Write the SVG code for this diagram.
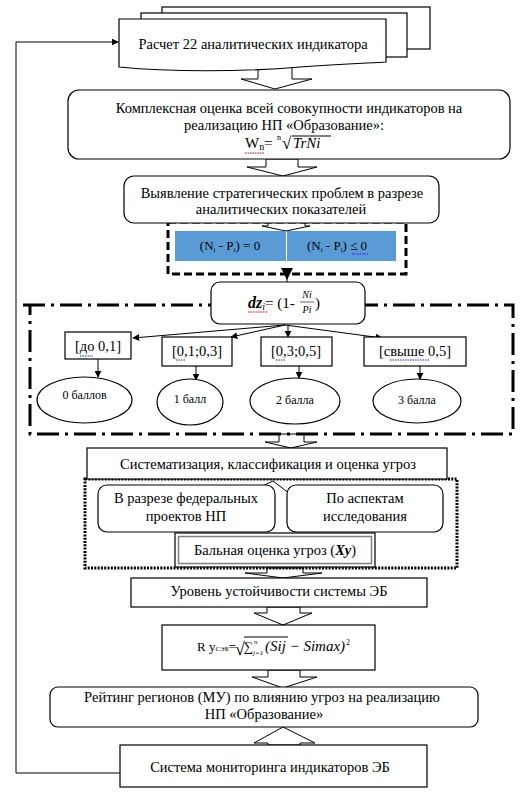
<svg xmlns="http://www.w3.org/2000/svg" width="521" height="795" viewBox="0 0 521 795">
<style>
.t{font-family:"Liberation Serif","Times New Roman",serif;font-size:14.5px;fill:#000}
.s{font-size:12px}
.m{font-family:"Liberation Serif",serif;font-style:italic}
.box{fill:#fff;stroke:#000;stroke-width:1.2}
.blk{fill:#fff;stroke:#000;stroke-width:1}
.ln{fill:none;stroke:#000;stroke-width:1}
.red{fill:none;stroke:#e00000;stroke-width:1;stroke-dasharray:1.5 1}
.blue{fill:none;stroke:#2020e0;stroke-width:1;stroke-dasharray:1.5 1}
</style>
<defs>
<marker id="ah" viewBox="0 0 10 10" refX="9" refY="5" markerWidth="7" markerHeight="7" orient="auto-start-reverse" markerUnits="userSpaceOnUse">
<path d="M0,0 L10,5 L0,10 z" fill="#000"/>
</marker>
</defs>

<g id="connectors">
<polyline class="ln" points="120,773 16,773 16,42 118,42" marker-end="url(#ah)"/>
<polygon class="blk" points="258,64 292,64 292,79 312,79 275,89 241,79 258,79"/>
<polygon class="blk" points="266,159 298,159 298,167 317,167 283,176 247,167 266,167"/>
<polygon class="blk" points="268,220 305,220 305,226 310,226 286,231 262,226 268,226"/>
<polygon points="281,268 293,268 287,280" fill="#000"/>
<line class="ln" x1="287" y1="274" x2="287" y2="283"/>
<line class="ln" x1="285" y1="325" x2="133" y2="338" marker-end="url(#ah)"/>
<line class="ln" x1="285" y1="325" x2="231" y2="337" marker-end="url(#ah)"/>
<line class="ln" x1="288" y1="325" x2="288" y2="337" marker-end="url(#ah)"/>
<line class="ln" x1="285" y1="325" x2="382" y2="338" marker-end="url(#ah)"/>
<line class="ln" x1="98" y1="359" x2="98" y2="377" marker-end="url(#ah)"/>
<line class="ln" x1="196" y1="366" x2="196" y2="380" marker-end="url(#ah)"/>
<line class="ln" x1="299" y1="366" x2="299" y2="378" marker-end="url(#ah)"/>
<line class="ln" x1="420" y1="366" x2="420" y2="379" marker-end="url(#ah)"/>
<polygon class="blk" points="279,434 304,434 304,442 317,442 291,448 265,442 279,442"/>
<line class="ln" x1="273" y1="481" x2="248" y2="493" marker-end="url(#ah)"/>
<line class="ln" x1="273" y1="481" x2="294" y2="497" marker-end="url(#ah)"/>
<polygon class="blk" points="267,568 303,568 303,573 322,573 283,578 245,573 267,573"/>
<polygon class="blk" points="267,607 300,607 300,613 312,613 283,625 254,613 267,613"/>
<polygon class="blk" points="268,670 300,670 300,677 317,677 283,688 252,677 268,677"/>
<polygon class="blk" points="268,745 300,745 300,743 315,743 283,727 254,743 268,743"/>
</g>

<g id="n1">
<rect class="box" x="162" y="7" width="268" height="42"/>
<rect class="box" x="141" y="13" width="266" height="44"/>
<path class="box" d="M119,19 H386 V62 C370,63 340,64 300,67 C240,72 170,72 119,67 Z"/>
<text class="t" x="253" y="49" text-anchor="middle">Расчет 22 аналитических индикатора</text>
</g>

<g id="n2">
<rect class="box" x="68" y="90" width="442" height="69" rx="11"/>
<text class="t" x="289" y="113" text-anchor="middle">Комплексная оценка всей совокупности индикаторов на</text>
<text class="t" x="284" y="130" text-anchor="middle">реализацию НП «Образование»:</text>
<text class="t" x="245" y="148" style="font-size:15px">W<tspan style="font-size:10px" dy="2">n</tspan><tspan dy="-2">=</tspan></text>
<text class="t" x="277" y="140" style="font-size:8px">n</text>
<text class="t" x="282" y="149" style="font-size:17px">√</text>
<line class="ln" x1="292" y1="136" x2="331" y2="136"/>
<text class="t m" x="293" y="148" style="font-size:15px">TrNi</text>
<path class="red" d="M245,153 H264"/>
</g>

<g id="n3">
<rect fill="none" stroke="#000" stroke-width="3" stroke-dasharray="8 4" x="168" y="222" width="238" height="52"/>
<rect x="175" y="231" width="111" height="30" fill="#5b9bd5"/>
<rect x="287" y="231" width="109" height="30" fill="#5b9bd5"/>
<text class="t" x="230" y="250" text-anchor="middle" style="font-size:13px">(N<tspan style="font-size:7px" dy="2">i</tspan><tspan dy="-2"> - P</tspan><tspan style="font-size:7px" dy="2">i</tspan><tspan dy="-2">) = 0</tspan></text>
<text class="t" x="337" y="250" text-anchor="middle" style="font-size:13px">(N<tspan style="font-size:7px" dy="2">i</tspan><tspan dy="-2"> - P</tspan><tspan style="font-size:7px" dy="2">i</tspan><tspan dy="-2">) ≤ 0</tspan></text>
<path class="blue" d="M352,254 H368"/>
<rect class="box" x="124" y="176" width="315" height="47" rx="10"/>
<text class="t" x="282" y="198" text-anchor="middle">Выявление стратегических проблем в разрезе</text>
<text class="t" x="281" y="214" text-anchor="middle">аналитических показателей</text>
</g>

<g id="n4">
<path fill="none" stroke="#000" stroke-width="3" stroke-dasharray="22 6 3 6" d="M23,305 H513 V434 H30 V305"/>
<rect class="box" x="211" y="282" width="154" height="42" rx="9"/>
<text class="t" x="248" y="308" style="font-size:15px"><tspan font-weight="bold" font-style="italic" style="font-size:16px">dz</tspan><tspan font-style="italic" style="font-size:10px" dy="2">i</tspan><tspan dy="-2">= (1- </tspan></text>
<text class="t m" x="307" y="298" style="font-size:10px" text-anchor="middle">Ni</text>
<line x1="300" y1="302" x2="314" y2="302" stroke="#000" stroke-width="0.6"/>
<text class="t m" x="307" y="313" style="font-size:10px" text-anchor="middle">Pi</text>
<text class="t" x="315" y="308" style="font-size:15px">)</text>
<path class="red" d="M248,312 H267"/>
</g>

<g id="n5">
<rect class="box" x="65" y="332" width="66" height="27"/>
<text class="t" x="98" y="351" text-anchor="middle">[до 0,1]</text>
<path class="blue" d="M80,356 H93"/>
<ellipse class="box" cx="84.5" cy="400" rx="47.5" ry="23"/>
<text class="t s" x="84.5" y="399" text-anchor="middle">0 баллов</text>
</g>
<g id="n6">
<rect class="box" x="162" y="337" width="70" height="29"/>
<text class="t" x="197" y="356" text-anchor="middle">[0,1;0,3]</text>
<path class="blue" d="M176,360 H185"/>
<ellipse class="box" cx="190" cy="402" rx="33" ry="23"/>
<text class="t s" x="190" y="403" text-anchor="middle">1 балл</text>
</g>
<g id="n7">
<rect class="box" x="261" y="337" width="71" height="29"/>
<text class="t" x="296" y="356" text-anchor="middle">[0,3;0,5]</text>
<path class="blue" d="M276,360 H285"/>
<ellipse class="box" cx="295" cy="401" rx="45" ry="23"/>
<text class="t s" x="295" y="404" text-anchor="middle">2 балла</text>
</g>
<g id="n8">
<rect class="box" x="364" y="337" width="102" height="29"/>
<text class="t" x="415" y="356" text-anchor="middle">[свыше 0,5]</text>
<path class="blue" d="M390,360 H430"/>
<ellipse class="box" cx="417" cy="401" rx="44" ry="22"/>
<text class="t s" x="417" y="404" text-anchor="middle">3 балла</text>
</g>

<g id="n9">
<rect fill="none" stroke="#000" stroke-width="3" stroke-dasharray="2 1.3" x="85" y="479" width="372" height="89"/>
<rect class="box" x="87" y="448" width="360" height="31"/>
<text class="t" x="268" y="469" text-anchor="middle">Систематизация, классификация и оценка угроз</text>
</g>
<g id="n10">
<rect class="box" x="98" y="485" width="177" height="47" rx="9"/>
<text class="t" x="186" y="503" text-anchor="middle">В разрезе федеральных</text>
<text class="t" x="186" y="521" text-anchor="middle">проектов НП</text>
</g>
<g id="n11">
<rect class="box" x="287" y="485" width="156" height="47" rx="9"/>
<text class="t" x="365" y="503" text-anchor="middle">По аспектам</text>
<text class="t" x="365" y="521" text-anchor="middle">исследования</text>
</g>
<g id="n12">
<rect class="box" x="175" y="533" width="200" height="34"/>
<rect x="178.5" y="536.5" width="193" height="27" fill="none" stroke="#808080" stroke-width="1.5"/>
<text class="t" x="275" y="555" text-anchor="middle">Бальная оценка угроз (<tspan font-weight="bold" font-style="italic">Xy</tspan>)</text>
</g>

<g id="n13">
<rect class="box" x="131" y="578" width="296" height="29"/>
<text class="t" x="279" y="596" text-anchor="middle">Уровень устойчивости системы ЭБ</text>
</g>
<g id="n14">
<rect class="box" x="162" y="625" width="213" height="45"/>
<text class="t" x="197" y="651" style="font-size:13px">R у<tspan style="font-size:7px">СЭБ</tspan>=</text>
<text class="t" x="235" y="655" style="font-size:18px">√</text>
<line class="ln" x1="244" y1="637" x2="288" y2="637"/>
<text class="t" x="244" y="651" style="font-size:13px">∑</text>
<text class="t m" x="254" y="644" style="font-size:7px">n</text>
<text class="t m" x="253" y="655" style="font-size:7px">j=1</text>
<text class="t m" x="265" y="651" style="font-size:15px">(Sij − Simax)</text>
<text class="t" x="346" y="645" style="font-size:8px">2</text>
</g>
<g id="n15">
<rect class="box" x="50" y="687" width="428" height="40" rx="8"/>
<text class="t" x="262" y="702" text-anchor="middle">Рейтинг регионов (МУ) по влиянию угроз на реализацию</text>
<text class="t" x="264" y="719" text-anchor="middle">НП «Образование»</text>
</g>
<g id="n16">
<rect class="box" x="120" y="745" width="307" height="42"/>
<text class="t" x="270" y="772" text-anchor="middle">Система мониторинга индикаторов ЭБ</text>
</g>
</svg>
